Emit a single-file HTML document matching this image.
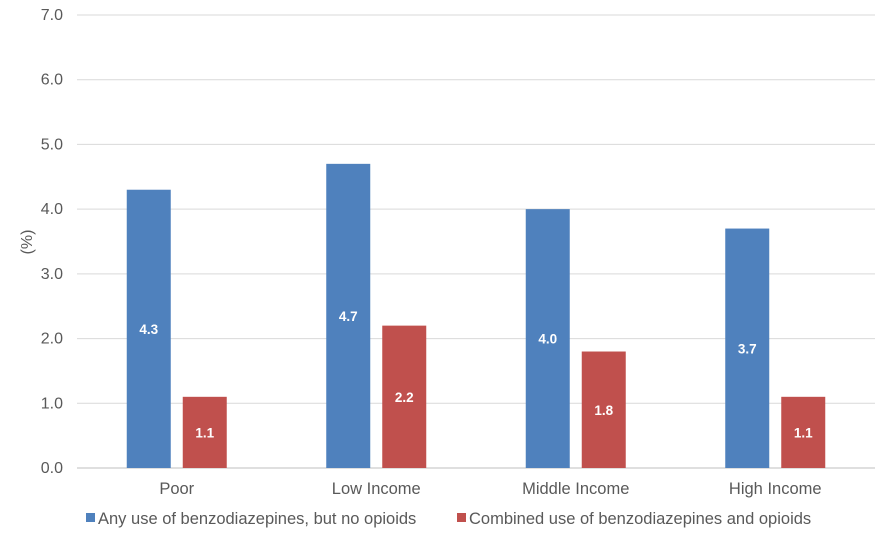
<!DOCTYPE html>
<html><head><meta charset="utf-8"><style>
body{margin:0;background:#fff;font-family:"Liberation Sans",Arial,sans-serif;}
</style></head><body>
<svg id="chart" width="888" height="536" xmlns="http://www.w3.org/2000/svg"></svg>
<script>
const categories=["Poor","Low Income","Middle Income","High Income"];
const seriesNames=["Any use of benzodiazepines, but no opioids","Combined use of benzodiazepines and opioids"];
const anyUse=[4.3,4.7,4.0,3.7];
const combinedUse=[1.1,2.2,1.8,1.1];
const yTicks=[0,1,2,3,4,5,6,7];
const colors=["#4F81BD","#C0504D"];
const svg=document.getElementById('chart');
const NS="http://www.w3.org/2000/svg";
const x0=77,x1=875,y0=468,y1=15,yMax=7;
const y=v=>y0-(v/yMax)*(y0-y1);
const bandW=(x1-x0)/categories.length;
const xc=i=>x0+bandW*(i+0.5);
function mk(tag,attrs,text){const e=document.createElementNS(NS,tag);for(const k in attrs)e.setAttribute(k,attrs[k]);if(text!==undefined)e.textContent=text;svg.appendChild(e);return e;}
yTicks.forEach(t=>{
  const g=mk('line',{x1:x0,x2:x1,y1:y(t),y2:y(t),stroke:t===0?'#bfbfbf':'#d9d9d9','stroke-width':1});
  
  
  const l=mk('text',{x:63,y:y(t)+5,'text-anchor':'end','font-size':16,fill:'#595959'},t.toFixed(1));
  
  
});
const yt=mk('text',{x:32,y:242,'text-anchor':'middle','font-size':16,fill:'#595959',transform:'rotate(-90 32 242)'},'(%)');


const bw=44,gap=12;
[anyUse,combinedUse].forEach((arr,s)=>{
  arr.forEach((v,i)=>{
    const bx=s===0?xc(i)-gap/2-bw:xc(i)+gap/2;
    const r=mk('rect',{x:bx,y:y(v),width:bw,height:y0-y(v),fill:colors[s]});
    
    
    const t=mk('text',{x:bx+bw/2,y:(y(v)+y0)/2+5,'text-anchor':'middle','font-size':13.5,'font-weight':'bold',fill:'#fff'},v.toFixed(1));
    
    
  });
});
categories.forEach((c,i)=>{
  const t=mk('text',{x:xc(i),y:494,'text-anchor':'middle','font-size':16.5,fill:'#595959'},c);
  
  
});
const lx=[86,457];
seriesNames.forEach((n,s)=>{
  const r=mk('rect',{x:lx[s],y:513,width:9,height:9,fill:colors[s]});
  
  
  const t=mk('text',{x:lx[s]+12,y:524,'font-size':16.5,fill:'#595959'},n);
  
  
});
</script>
</body></html>
